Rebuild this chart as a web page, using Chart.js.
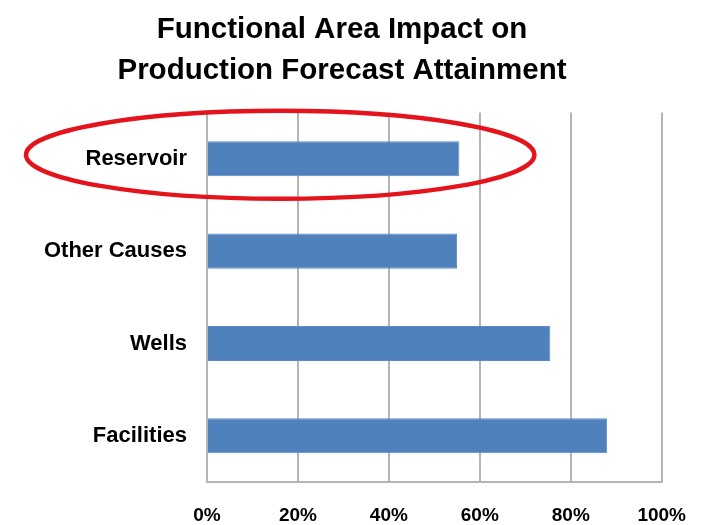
<!DOCTYPE html>
<html>
<head>
<meta charset="utf-8">
<script src="https://cdn.jsdelivr.net/npm/chart.js@4.4.1/dist/chart.umd.min.js"></script>
<style>
  html, body { margin: 0; padding: 0; background: #fff; }
  #wrap { width: 708px; height: 525px; }
</style>
</head>
<body>
<div id="wrap"><canvas id="chart"></canvas></div>
<script>
const titleLines = ['Functional Area Impact on', 'Production Forecast Attainment'];
const categories = ['Reservoir', 'Other Causes', 'Wells', 'Facilities'];
const impact = [0.555, 0.55, 0.755, 0.88];
const tickValues = [0, 0.2, 0.4, 0.6, 0.8, 1.0];

const FONT = "'Liberation Sans', Arial, sans-serif";

// red ring around the highlighted category
const highlight = { index: 0, rightValue: 0.72, left: 26, halfHeight: 44, dy: -4 };

const ellipsePlugin = {
    id: 'ellipse',
    afterDatasetsDraw(chart) {
        const x = chart.scales.x, y = chart.scales.y;
        const right = x.getPixelForValue(highlight.rightValue);
        const cx = (highlight.left + right) / 2;
        const cy = y.getPixelForValue(highlight.index) + highlight.dy;
        const ctx = chart.ctx;
        ctx.save();
        ctx.beginPath();
        ctx.ellipse(cx, cy, (right - highlight.left) / 2, highlight.halfHeight, 0, 0, Math.PI * 2);
        ctx.strokeStyle = '#e3141b';
        ctx.lineWidth = 4.5;
        ctx.stroke();
        ctx.restore();
    }
};

new Chart(document.getElementById('chart'), {
    type: 'bar',
    data: {
        labels: categories,
        datasets: [{
            data: impact,
            backgroundColor: '#4f81bd',
            borderColor: '#5b8cc6',
            borderWidth: 1,
            barPercentage: 0.38,
            categoryPercentage: 1
        }]
    },
    options: {
        indexAxis: 'y',
        responsive: true,
        maintainAspectRatio: false,
        animation: false,
        layout: { padding: { top: 9, right: 24, bottom: 0, left: 0 } },
        plugins: {
            legend: { display: false },
            tooltip: { enabled: false },
            title: {
                display: true,
                text: titleLines,
                color: '#000',
                font: { family: FONT, size: 29.5, weight: 'bold', lineHeight: 1.4 },
                padding: { top: 0, bottom: 21 }
            }
        },
        scales: {
            x: {
                min: 0, max: 1,
                afterBuildTicks(scale) { scale.ticks = tickValues.map(v => ({ value: v })); },
                afterFit(scale) { scale.height = 43; },
                grid: { color: '#b4b4b4', lineWidth: 2, drawTicks: false },
                border: { color: '#b4b4b4', width: 2 },
                ticks: {
                    color: '#000',
                    padding: 22,
                    font: { family: FONT, size: 19, weight: 'bold' },
                    callback: v => Math.round(v * 100) + '%'
                }
            },
            y: {
                grid: { display: false, drawTicks: false },
                border: { color: '#b4b4b4', width: 2 },
                afterFit(scale) { scale.width = 207; },
                ticks: {
                    color: '#000',
                    padding: 20,
                    font: { family: FONT, size: 22, weight: 'bold' }
                }
            }
        }
    },
    plugins: [ellipsePlugin]
});
</script>
</body>
</html>
